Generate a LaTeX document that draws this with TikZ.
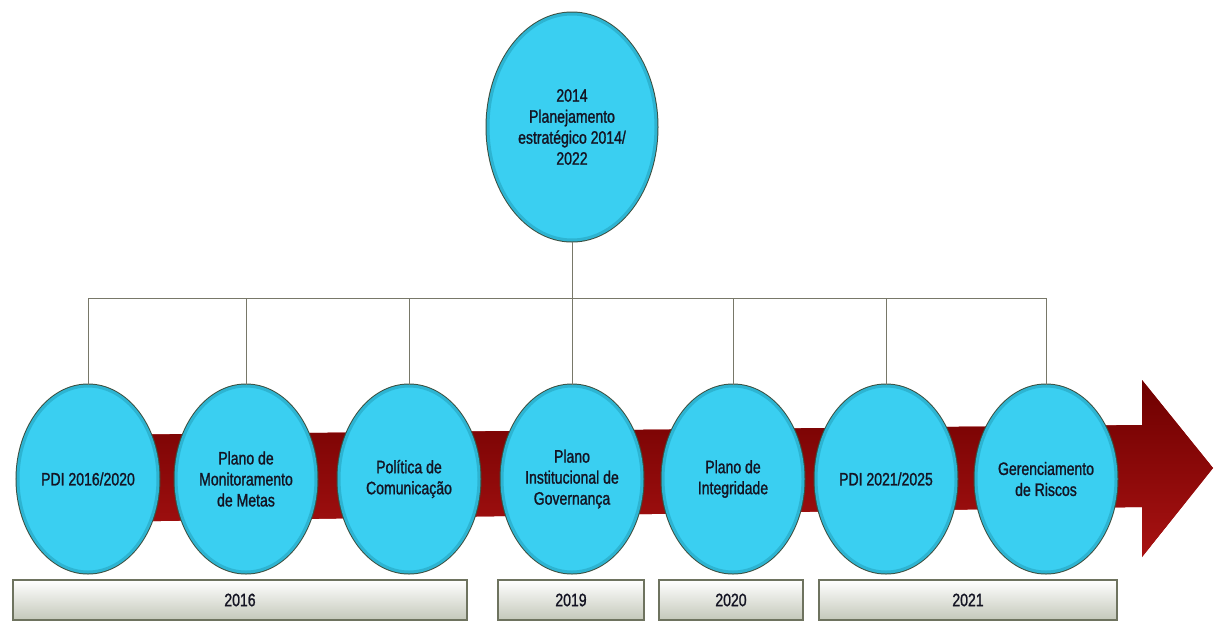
\documentclass[tikz,border=0pt]{standalone}
\usepackage{fontspec}
\setmainfont[FakeStretch=0.78,FakeBold=1.2]{Liberation Sans}
\usetikzlibrary{shapes.geometric}

\definecolor{balloon}{RGB}{58,207,241}
\definecolor{balloonring}{RGB}{45,180,210}
\definecolor{balloonedge}{RGB}{60,80,65}
\definecolor{arrowred}{RGB}{168,18,18}
\definecolor{arrowdark}{RGB}{110,0,0}
\definecolor{linkgray}{RGB}{120,120,105}
\definecolor{barborder}{RGB}{110,115,95}
\definecolor{bargray}{RGB}{196,200,186}
\definecolor{inktext}{RGB}{20,20,35}

\tikzset{
  balloon/.style={ellipse, fill=balloon, draw=balloonring, line width=3pt,
    preaction={draw=balloonedge, line width=5pt},
    inner sep=0pt, align=center, text=inktext,
    font=\fontsize{18}{21}\selectfont},
  yearbar/.style={rectangle, draw=barborder, line width=2.5pt, inner sep=0pt,
    top color=white, bottom color=bargray, text=inktext,
    font=\fontsize{18}{20}\selectfont},
  link/.style={draw=linkgray, line width=0.9pt}
}

\begin{document}
\begin{tikzpicture}[x=1pt,y=-1pt]

            \useasboundingbox (0,0) rectangle (1215,622);

            % seta do tempo
            \fill[arrowred, top color=arrowdark, bottom color=arrowred]
                (90,435) -- (1142,425) -- (1142,380) -- (1213,468)
                -- (1142,557) -- (1142,507) -- (90,522) -- cycle;

            \path   (572,127) node (plan) [balloon, minimum width=168, minimum height=226]
                        {2014\\Planejamento\\estrat\'egico 2014/\\2022}
                    (88,479) node (pdia) [balloon, minimum width=140, minimum height=186] {PDI 2016/2020}
                    (246,479) node (metas) [balloon, minimum width=140, minimum height=186] {Plano de\\Monitoramento\\de Metas}
                    (409,479) node (comun) [balloon, minimum width=140, minimum height=186] {Pol\'itica de\\Comunica\c{c}\~ao}
                    (572,479) node (gover) [balloon, minimum width=140, minimum height=186] {Plano\\Institucional de\\Governan\c{c}a}
                    (733,479) node (integ) [balloon, minimum width=140, minimum height=186] {Plano de\\Integridade}
                    (886,479) node (pdib) [balloon, minimum width=140, minimum height=186] {PDI 2021/2025}
                    (1046,479) node (risco) [balloon, minimum width=140, minimum height=186] {Gerenciamento\\de Riscos};

            \coordinate (hub) at (572,298);

            \draw[link] (plan.south) -- (hub);
            \draw[link] (pdia.north) |- (hub);
            \draw[link] (metas.north) |- (hub);
            \draw[link] (comun.north) |- (hub);
            \draw[link] (gover.north) -- (hub);
            \draw[link] (integ.north) |- (hub);
            \draw[link] (pdib.north) |- (hub);
            \draw[link] (risco.north) |- (hub);

            % anos
            \path   (240,600) node (ano16) [yearbar, minimum width=454, minimum height=40] {2016}
                    (571,600) node (ano19) [yearbar, minimum width=146, minimum height=40] {2019}
                    (731,600) node (ano20) [yearbar, minimum width=144, minimum height=40] {2020}
                    (968,600) node (ano21) [yearbar, minimum width=298, minimum height=40] {2021};

        \end{tikzpicture}
\end{document}
